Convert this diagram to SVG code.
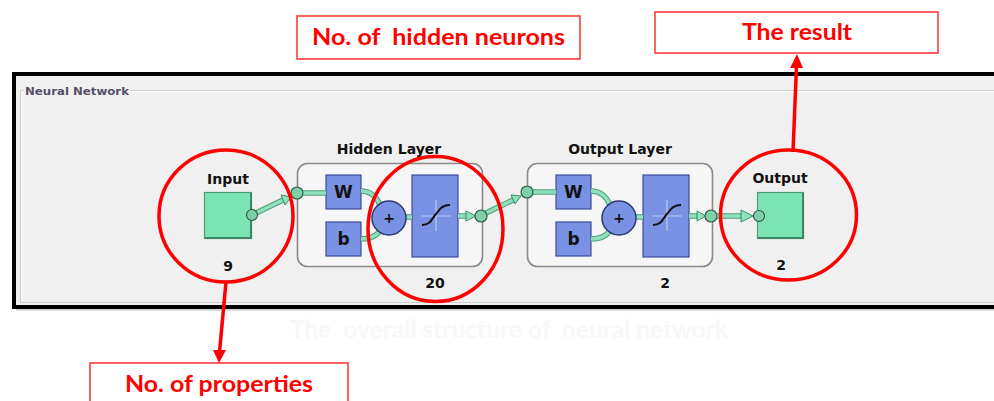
<svg xmlns="http://www.w3.org/2000/svg" width="994" height="401" viewBox="0 0 994 401">
<defs>
<style>
.lbl{font-family:"DejaVu Sans",sans-serif;font-weight:bold;font-size:14px;fill:#111;text-anchor:middle}
.wb{font-family:"DejaVu Sans",sans-serif;font-weight:bold;font-size:17px;fill:#111;text-anchor:middle}
.red{font-family:Lato,"Liberation Sans",sans-serif;font-weight:bold;font-size:23px;fill:#ff0000;text-anchor:middle;white-space:pre}
.rbox{fill:#fff;stroke:#ff3b3b;stroke-width:1.6}
.ring{fill:none;stroke:#ff0000;stroke-width:3.5}
.rarrow{stroke:#ff0000;stroke-width:3.5;fill:none}
.blue{fill:#7a92e4;stroke:#3d4d9c;stroke-width:1.2}
.green{fill:#7ce4b4;stroke:#4a9c78;stroke-width:1.2}
.layer{fill:#f6f6f6;stroke:#8a8a8a;stroke-width:1.6}
.wire-o{stroke:#4f9e7c;stroke-width:5.5;fill:none}
.wire{stroke:#8fe0bb;stroke-width:3.5;fill:none}
.dot{fill:#7fd0a8;stroke:#2d5c47;stroke-width:1.2}
.tri{fill:#8fe3bb;stroke:#3b8c68;stroke-width:1}
.cross{stroke:#b9c8f5;stroke-width:1.2}
.sig{stroke:#111;stroke-width:2;fill:none}
</style>
</defs>
<rect width="994" height="401" fill="#fff"/>
<text x="509" y="338" style="font-family:Lato,'Liberation Sans',sans-serif;font-weight:bold;font-size:24px;fill:#f8f8f8;text-anchor:middle;white-space:pre" textLength="438" lengthAdjust="spacingAndGlyphs">The  overall structure of  neural network</text>

<g id="frame">
<rect x="16" y="78" width="990" height="233" fill="#d8d8d8"/>
<rect x="14" y="74" width="990" height="233" fill="#f0f0f0" stroke="#000" stroke-width="4"/>
<path d="M130,90.5 H994 M20.5,90.5 V302.5 H994 M20.5,90.5 H24" stroke="#cfcfcf" stroke-width="1.2" fill="none"/>
<path d="M130,91.8 H994 M21.8,91.8 V301 M21.8,91.8 H24" stroke="#ffffff" stroke-width="1" fill="none"/>
<text x="25" y="95" style="font-family:'DejaVu Sans',sans-serif;font-weight:bold;font-size:11px;fill:#565068" textLength="104" lengthAdjust="spacingAndGlyphs">Neural Network</text>
</g>

<g id="input">
<text class="lbl" x="228" y="184">Input</text>
<rect class="green" x="204.5" y="192.5" width="47" height="46"/>
<path d="M205,238 H251 V193" stroke="#3f8566" stroke-width="2" fill="none"/>
<text class="lbl" x="228" y="271">9</text>
</g>

<g id="hidden-layer">
<text class="lbl" x="389" y="154">Hidden Layer</text>
<rect class="layer" x="297.5" y="163.5" width="185" height="103" rx="10"/>
<rect class="blue" x="326" y="175" width="35" height="34"/>
<text class="wb" x="343.5" y="198">W</text>
<rect class="blue" x="326" y="222" width="35" height="34"/>
<text class="wb" x="343.5" y="245">b</text>
<rect class="blue" x="412" y="175" width="46" height="82"/>
<path class="cross" d="M421,216 H451 M436,200 V231"/>
<path class="sig" d="M422,225 C431,225 432,218 436,214 C440,209 442,205 450,205"/>
<text class="lbl" x="435" y="288">20</text>
</g>

<g id="output-layer">
<text class="lbl" x="620" y="154">Output Layer</text>
<rect class="layer" x="527.5" y="163.5" width="185" height="103" rx="10"/>
<rect class="blue" x="556" y="175" width="35" height="34"/>
<text class="wb" x="573.5" y="198">W</text>
<rect class="blue" x="556" y="222" width="35" height="34"/>
<text class="wb" x="573.5" y="245">b</text>
<rect class="blue" x="643" y="175" width="46" height="82"/>
<path class="cross" d="M652,216 H682 M667,200 V231"/>
<path class="sig" d="M653,225 C662,225 663,218 667,214 C671,209 673,205 681,205"/>
<text class="lbl" x="665" y="288">2</text>
</g>

<g id="output">
<text class="lbl" x="780" y="183">Output</text>
<rect class="green" x="757.5" y="192.5" width="46" height="46"/>
<path d="M758,238 H803 V193" stroke="#3f8566" stroke-width="2" fill="none"/>
<text class="lbl" x="781" y="270">2</text>
</g>

<g id="connectors">
<path class="wire-o" d="M256,213 L283,200"/>
<path class="wire" d="M256,213 L283,200"/>
<path class="tri" d="M281,195 L291,197 L285,205 z"/>
<path class="wire-o" d="M303,193 H326 M361,191 Q374,191 380,205 M361,239 Q374,239 380,231 M406,217 H412 M458,216 H467"/>
<path class="wire" d="M303,193 H326 M361,191 Q374,191 380,205 M361,239 Q374,239 380,231 M406,217 H412 M458,216 H467"/>
<path class="tri" d="M466,211 L476,216 L466,221 z"/>
<path class="wire-o" d="M486,213 L513,200"/>
<path class="wire" d="M486,213 L513,200"/>
<path class="tri" d="M511,195 L521,196 L515,204 z"/>
<path class="wire-o" d="M533,192 H556 M591,191 Q604,191 610,205 M591,239 Q604,239 610,231 M636,217 H643 M689,216 H698"/>
<path class="wire" d="M533,192 H556 M591,191 Q604,191 610,205 M591,239 Q604,239 610,231 M636,217 H643 M689,216 H698"/>
<path class="tri" d="M697,211 L706,216 L697,221 z"/>
<path class="wire-o" d="M716,216 H742"/>
<path class="wire" d="M716,216 H742"/>
<path class="tri" d="M741,210 L753,216 L741,222 z"/>
<circle cx="389" cy="218" r="17" fill="#7a92e4" stroke="#2e3a70" stroke-width="1.5"/>
<text class="lbl" x="389" y="223">+</text>
<circle cx="619" cy="218" r="17" fill="#7a92e4" stroke="#2e3a70" stroke-width="1.5"/>
<text class="lbl" x="619" y="223">+</text>
<circle class="dot" cx="252" cy="215" r="5.5"/>
<circle class="dot" cx="297" cy="193" r="6"/>
<circle class="dot" cx="481" cy="216" r="6"/>
<circle class="dot" cx="527" cy="192" r="6"/>
<circle class="dot" cx="711" cy="216" r="6"/>
<circle class="dot" cx="759" cy="216" r="5.5"/>
</g>

<g id="annotation-properties">
<ellipse class="ring" cx="226" cy="216" rx="67" ry="66"/>
<path class="rarrow" d="M226,282 L219.5,352"/>
<path d="M213,350 L226,350 L219,363 z" fill="#ff0000"/>
<rect class="rbox" x="90" y="363" width="258" height="45"/>
<text class="red" x="219" y="392" textLength="188" lengthAdjust="spacingAndGlyphs">No. of properties</text>
</g>

<g id="annotation-hidden">
<ellipse class="ring" cx="435.5" cy="229" rx="67.5" ry="72.5"/>
<rect class="rbox" x="297" y="16" width="283" height="43"/>
<text class="red" x="438.5" y="45" textLength="253" lengthAdjust="spacingAndGlyphs">No. of  hidden neurons</text>
</g>

<g id="annotation-result">
<ellipse class="ring" cx="788.5" cy="215" rx="68" ry="65"/>
<path class="rarrow" d="M793,152 L796.5,66"/>
<path d="M790,68 L797,54 L803,68 z" fill="#ff0000"/>
<rect class="rbox" x="655" y="12" width="283" height="41"/>
<text class="red" x="797" y="40" textLength="110" lengthAdjust="spacingAndGlyphs">The result</text>
</g>
</svg>
